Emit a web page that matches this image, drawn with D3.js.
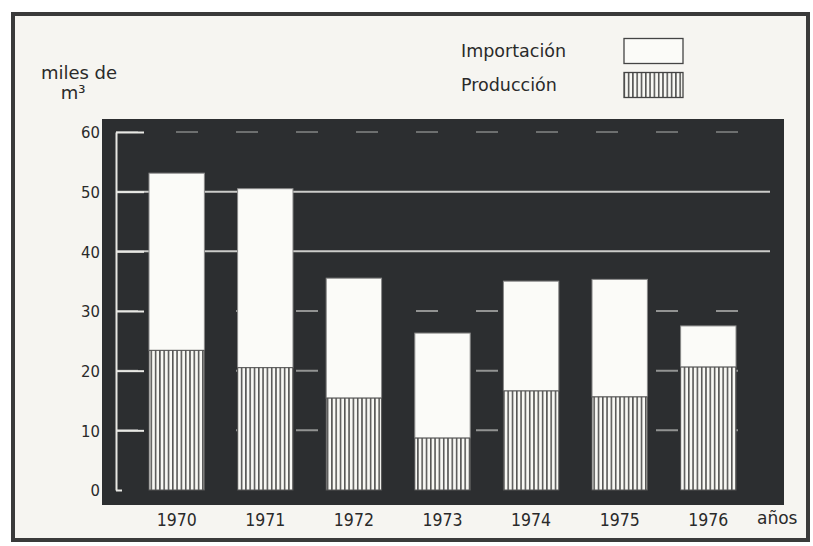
<!DOCTYPE html>
<html><head><meta charset="utf-8">
<script src="https://cdn.jsdelivr.net/npm/d3@7"></script>
<style>
html,body{margin:0;padding:0;background:#ffffff;}
svg{display:block;}
text{font-family:"DejaVu Sans Condensed","Liberation Sans Narrow","DejaVu Sans",sans-serif;fill:#2a2a2a;}
text.wide{font-family:"DejaVu Sans",sans-serif;}
</style></head>
<body>
<svg id="chart" width="813" height="546"></svg>
<script>
const years = ["1970","1971","1972","1973","1974","1975","1976"];
const produccion = [23.4, 20.5, 15.4, 8.7, 16.6, 15.6, 20.6];
const importacion = [29.7, 30.0, 20.1, 17.6, 18.4, 19.7, 6.9];
const yTicks = [0, 10, 20, 30, 40, 50, 60];
const seriesNames = ["Importación", "Producción"];

const svg = d3.select("#chart");

// page frame
svg.append("rect").attr("x", 13).attr("y", 14).attr("width", 795).attr("height", 526)
  .attr("fill", "#f6f5f1").attr("stroke", "#3a3a3a").attr("stroke-width", 4);

// hatch pattern
const defs = svg.append("defs");
const pat = defs.append("pattern").attr("id", "hatch").attr("patternUnits", "userSpaceOnUse")
  .attr("width", 4.3).attr("height", 10);
pat.append("rect").attr("width", 4.3).attr("height", 10).attr("fill", "#f8f8f4");
pat.append("line").attr("x1", 0.8).attr("x2", 0.8).attr("y1", 0).attr("y2", 10)
  .attr("stroke", "#333").attr("stroke-width", 1.3);

// plot background
svg.append("rect").attr("x", 102).attr("y", 119).attr("width", 682).attr("height", 386)
  .attr("fill", "#2c2e30");

const y = d3.scaleLinear().domain([0, 60]).range([490, 132]);
const x = d3.scaleBand().domain(years).range([149, 736]).paddingInner(0.375).paddingOuter(0);

// gridlines
svg.append("g").selectAll("line").data(yTicks.filter(d => d > 0)).join("line")
  .attr("x1", 116).attr("x2", 770)
  .attr("y1", d => y(d)).attr("y2", d => y(d))
  .attr("stroke", "#e8e8e4").attr("stroke-opacity", d => (d === 40 || d === 50) ? 0.85 : (d === 60 ? 0.35 : 0.55))
  .attr("stroke-width", 2)
  .attr("stroke-dasharray", d => (d === 40 || d === 50) ? null : "22,38");

// axis
const axis = d3.axisRight(y).tickValues(yTicks).tickSize(28).tickSizeOuter(0).tickFormat(d3.format("d"));
const ag = svg.append("g").attr("transform", "translate(116,0)").call(axis);
ag.select(".domain").attr("stroke", "#e8e8e4").attr("stroke-width", 2);
ag.selectAll(".tick line").attr("stroke", "#e8e8e4").attr("stroke-width", 2)
  .attr("x2", d => d === 0 ? 6 : 28);
ag.selectAll(".tick text").attr("x", -16).attr("text-anchor", "end")
  .attr("font-size", 16.5).attr("fill", "#2a2a2a").attr("dy", "0.35em");

// stacked bars
const data = years.map((yr, i) => ({year: yr, prod: produccion[i], imp: importacion[i]}));
const bars = svg.append("g");
bars.selectAll("rect.imp").data(data).join("rect").attr("class", "imp")
  .attr("x", d => x(d.year)).attr("width", x.bandwidth())
  .attr("y", d => y(d.prod + d.imp)).attr("height", d => y(d.prod) - y(d.prod + d.imp))
  .attr("fill", "#fbfbf8").attr("stroke", "#888").attr("stroke-width", 1);
bars.selectAll("rect.prod").data(data).join("rect").attr("class", "prod")
  .attr("x", d => x(d.year)).attr("width", x.bandwidth())
  .attr("y", d => y(d.prod)).attr("height", d => y(0) - y(d.prod))
  .attr("fill", "url(#hatch)").attr("stroke", "#555").attr("stroke-width", 1);

// x labels
svg.append("g").selectAll("text").data(years).join("text")
  .attr("x", d => x(d) + x.bandwidth() / 2).attr("y", 526)
  .attr("text-anchor", "middle").attr("font-size", 17.5).text(d => d);
svg.append("text").attr("class", "wide").attr("x", 757).attr("y", 524).attr("font-size", 17).text("años");

// y title
svg.append("text").attr("class", "wide").attr("x", 79).attr("y", 79).attr("text-anchor", "middle").attr("font-size", 18).text("miles de");
svg.append("text").attr("class", "wide").attr("x", 73).attr("y", 99).attr("text-anchor", "middle").attr("font-size", 18).text("m³");

// legend
const lg = svg.append("g");
seriesNames.forEach((name, i) => {
  const cy = 51 + i * 34;
  lg.append("text").attr("class", "wide").attr("x", 461).attr("y", cy).attr("dy", "0.35em").attr("font-size", 17.5).text(name);
  lg.append("rect").attr("x", 624).attr("y", cy - 12.5).attr("width", 59).attr("height", 25)
    .attr("fill", i === 0 ? "#fbfbf8" : "url(#hatch)").attr("stroke", "#444").attr("stroke-width", 1.3);
});
</script>
</body></html>
